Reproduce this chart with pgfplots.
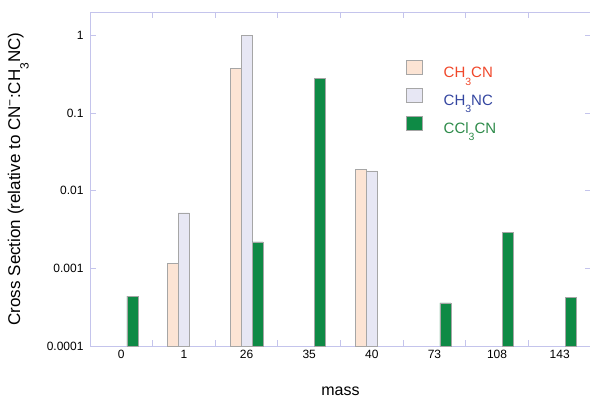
\documentclass[border=0pt]{standalone}
\usepackage{pgfplots}
\pgfplotsset{compat=1.18}
\usepackage{fontspec}
\setmainfont{Liberation Sans}
\definecolor{cacn}{HTML}{FCE4D4}
\definecolor{canc}{HTML}{E7E7F4}
\definecolor{cccl}{HTML}{0E8A45}
\definecolor{axc}{HTML}{C4C4EC}
\definecolor{tred}{HTML}{F0472A}
\definecolor{tblue}{HTML}{3446A0}
\definecolor{tgreen}{HTML}{2E8B4A}
\newcommand\lsub[1]{\raisebox{-0.52em}{\fontsize{10.5}{10.5}\selectfont #1}}
\newcommand\ysub[1]{\raisebox{-0.5em}{\fontsize{12}{12}\selectfont #1}}
\begin{document}
\begin{tikzpicture}[x=1pt,y=1pt]
\path[use as bounding box] (-90,-54) rectangle (500,346);
\begin{axis}[
  at={(0,0)}, anchor=south west,
  scale only axis, width=501pt, height=334pt,
  ymode=log, log origin y=infty,
  ymin=1e-4, ymax=2,
  xmin=-0.5, xmax=7.5,
  ybar=0pt, bar width=11pt,
  axis line style={axc, line width=0.8pt},
  ytick={1e-4,1e-3,1e-2,1e-1,1},
  yticklabels={0.0001,0.001,0.01,0.1,1},
  yminorticks=false,
  ytick style={axc, line width=0.8pt},
  tick align=inside, major tick length=6pt,
  xtick={0,...,7},
  xticklabels={0,1,26,35,40,73,108,143},
  major x tick style={draw=none},
  minor xtick={0.5,1.5,...,6.5},
  minor x tick style={axc, line width=0.8pt},
  minor tick length=6pt,
  ticklabel style={font=\fontsize{12}{14}\selectfont, text=black},
  yticklabel style={xshift=-3pt},
  xticklabel style={yshift=-1pt},
  /pgf/number format/assume math mode=true,
  xlabel={mass},
  ylabel={Cross Section (relative to CN\textsuperscript{−}:CH\ysub{3}NC)},
  xlabel style={font=\fontsize{16}{18}\selectfont, at={(axis description cs:0.5,-0.136)}, anchor=center},
  ylabel style={font=\fontsize{17}{19}\selectfont, at={(axis description cs:-0.143,0.5)}, anchor=center},
  legend style={at={(axis description cs:0.631,0.856)}, anchor=north west, draw=none, fill=none,
    inner sep=0pt, nodes={inner sep=0pt},
    font=\fontsize{15}{17}\selectfont, row sep=9.2pt,
    /tikz/every odd column/.append style={column sep=21pt}},
  legend cell align=left,
  legend image code/.code={\draw[#1, bar shift=0pt] (0pt,-1.6pt) rectangle (16pt,12.4pt);},
]
\addplot[draw=black!35, fill=cacn] coordinates {(1,0.00115) (2,0.38) (4,0.019)};
\addlegendentry{\textcolor{tred}{CH\lsub{3}CN}}
\addplot[draw=black!35, fill=canc] coordinates {(1,0.0052) (2,1.0) (4,0.018)};
\addlegendentry{\textcolor{tblue}{CH\lsub{3}NC}}
\addplot[draw=black!35, fill=cccl] coordinates {(0,0.00044) (2,0.0022) (3,0.28) (5,0.00036) (6,0.0029) (7,0.00042)};
\addlegendentry{\textcolor{tgreen}{CCl\lsub{3}CN}}
\end{axis}
\end{tikzpicture}
\end{document}
